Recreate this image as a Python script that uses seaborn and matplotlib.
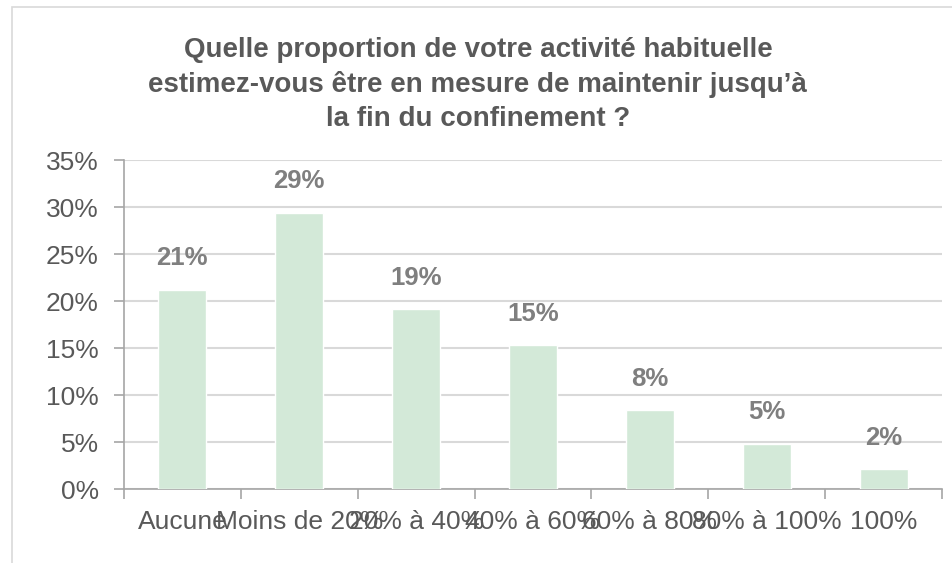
import matplotlib.pyplot as plt
import matplotlib.ticker as mticker
from matplotlib.patches import Rectangle
import pandas as pd
import seaborn as sns

# Data
categories = ['Aucune', 'Moins de 20%', '20% à 40%', '40% à 60%',
              '60% à 80%', '80% à 100%', '100%']
values = [21.2, 29.4, 19.1, 15.3, 8.4, 4.8, 2.1]
title_lines = ["Quelle proportion de votre activité habituelle",
               "estimez-vous être en mesure de maintenir jusqu’à",
               "la fin du confinement ?"]

df = pd.DataFrame({'categorie': categories, 'part': values})

sns.set_theme(style='white')
plt.rcParams['font.family'] = ['Liberation Sans', 'DejaVu Sans']

fig = plt.figure(figsize=(9.53, 5.63), dpi=100)
ax = fig.add_axes([0.130, 0.1314, 0.8585, 0.5844])

# Outer chart-area frame (cropped at right and bottom)
fig.patches.append(Rectangle((12 / 953, -0.2), 2.0, 1.2 - 7 / 563,
                             transform=fig.transFigure, fill=False,
                             edgecolor='#d9d9d9', linewidth=1.2, zorder=0))

sns.barplot(data=df, x='categorie', y='part', color='#d3e9d8',
            saturation=1, width=0.41, ax=ax, zorder=3)

# Data labels
for i, v in enumerate(values):
    ax.annotate(f"{v:.0f}%", (i, v), xytext=(0, 14), textcoords='offset points',
                ha='center', va='bottom', fontsize=18.5, fontweight='bold',
                color='#7f7f7f')

ax.set_ylim(0, 35)
ax.set_xlim(-0.5, len(categories) - 0.5)
ax.yaxis.set_major_locator(mticker.MultipleLocator(5))
ax.yaxis.set_major_formatter(mticker.FuncFormatter(lambda y, _: f"{y:.0f}%"))
ax.grid(axis='y', color='#d9d9d9', linewidth=1.5, zorder=0)
ax.set_axisbelow(True)

# Category boundary ticks on x axis
ax.set_xticks([i - 0.5 for i in range(len(categories) + 1)], minor=True)
ax.tick_params(axis='x', which='minor', bottom=True, length=7, width=1.2,
               color='#a6a6a6', direction='out')
ax.tick_params(axis='x', which='major', length=0, pad=15,
               labelsize=19, labelcolor='#595959')
ax.tick_params(axis='y', left=True, length=7, width=1.2, color='#a6a6a6',
               pad=11, labelsize=19, labelcolor='#595959')

for side in ['top', 'right']:
    ax.spines[side].set_visible(False)
for side in ['left', 'bottom']:
    ax.spines[side].set_color('#a6a6a6')
    ax.spines[side].set_linewidth(1.2)

ax.set_xlabel('')
ax.set_ylabel('')

# Title, one line at a time on the reference baselines
for line, base in zip(title_lines, [57, 92, 126]):
    fig.text(0.5015, 1 - base / 563, line, ha='center', va='baseline',
             fontsize=20, fontweight='bold', color='#595959')

fig.savefig('out.png', dpi=100)
